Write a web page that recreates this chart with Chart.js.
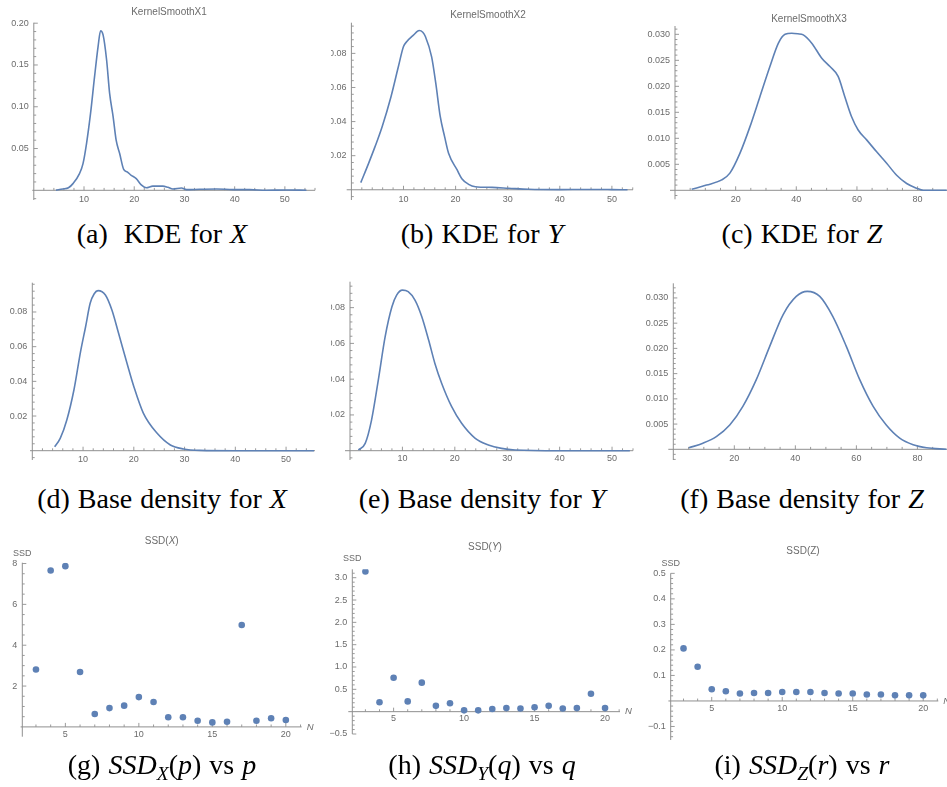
<!DOCTYPE html>
<html>
<head>
<meta charset="utf-8">
<script src="https://cdn.jsdelivr.net/npm/chart.js@4.4.1/dist/chart.umd.min.js"></script>
<style>
    html, body { margin:0; padding:0; background:#fff; }
    #page { position:relative; width:947px; height:787px; overflow:hidden; }
    #page canvas { position:absolute; }
    .cap {
        position:absolute; width:440px; text-align:center; white-space:nowrap;
        font-family:"Liberation Serif","DejaVu Serif",serif; font-size:28px; line-height:28px;
        color:#000; word-spacing:1px;
    }
    .cap sub { font-size:70%; vertical-align:-0.3em; line-height:0; }
</style>
</head>
<body>
<div id="page"></div>
<script>
// ==========================================
// 3x3 panel figure: KDE / base density / SSD
// ==========================================

const BLUE  = '#5e81b5';
const AXIS  = '#8f8f8f';
const LABEL = '#6b6b6b';
const SANS  = '"Liberation Sans", Arial, sans-serif';

// ── (a)(b)(c) kernel smooth curves ──
const kdeX_x = [4.4, 5.8, 6.9, 7.8, 9.1, 9.8, 10.5, 11.3, 12.1, 12.8, 13.3, 13.8, 14.5, 15.1, 15.8, 16.4, 17.1, 17.9,
                18.6, 19.4, 20.4, 21.4, 22.4, 23.7, 25.7, 26.7, 27.7, 29.4, 30.4, 33.0, 36.4, 39.7, 43.0, 46.3, 50.3, 54.3];
const kdeX_y = [0.0002, 0.0016, 0.003, 0.008, 0.020, 0.032, 0.056, 0.092, 0.136, 0.172, 0.191, 0.186, 0.156, 0.116, 0.088, 0.060, 0.044, 0.025,
                0.022, 0.018, 0.014, 0.0064, 0.003, 0.005, 0.005, 0.0036, 0.0016, 0.0028, 0.0008, 0.0012, 0.0016, 0.0008, 0.0008, 0.0001, 0.0004, 0.0001];

const kdeY_x = [1.8, 3.3, 4.5, 5.9, 7.6, 9.0, 10.0, 10.6, 11.9, 13.0, 13.7, 14.2, 15.4, 16.2, 17.05, 17.9, 18.65, 20.3,
                21.2, 22.5, 23.8, 27.0, 30.2, 34.0, 40.0, 45.0, 50.0, 53.0];
const kdeY_y = [0.0042, 0.0155, 0.025, 0.037, 0.0546, 0.072, 0.084, 0.0868, 0.0907, 0.0934, 0.0924, 0.0899, 0.078, 0.0624, 0.043, 0.031, 0.0214, 0.0116,
                0.0065, 0.0032, 0.0018, 0.0014, 0.0009, 0.0003, 0.0001, 0.0002, 0.0001, 0.0];

const kdeZ_x = [5.5, 10.4, 15.4, 18.1, 21.4, 24.7, 28.0, 31.3, 34.1, 36.3, 38.5, 40.5, 42.3, 45.1, 48.4, 51.1, 53.8, 56.0,
                58.2, 60.4, 63.2, 66.5, 69.8, 73.1, 76.4, 79.7, 81.9, 89.6];
const kdeZ_y = [0.0002, 0.001, 0.002, 0.0033, 0.0071, 0.0122, 0.018, 0.0238, 0.0283, 0.030, 0.0302, 0.0301, 0.0299, 0.0283, 0.0254, 0.0238, 0.0219, 0.018,
                0.0142, 0.0116, 0.0097, 0.0074, 0.0052, 0.0029, 0.0013, 0.0004, 0.0, 0.0];

// ── (d)(e)(f) base densities ──
const baseX_x = [4.4, 5.5, 6.8, 8.2, 9.5, 10.5, 11.4, 12.2, 12.95, 14.4, 15.7, 17.0, 18.7, 20.0, 21.9, 24.6, 27.2, 29.8, 33.0, 40.0, 55.5];
const baseX_y = [0.0023, 0.0071, 0.0177, 0.035, 0.057, 0.0715, 0.085, 0.0905, 0.0923, 0.0898, 0.081, 0.0677, 0.050, 0.037, 0.0215, 0.010, 0.0033, 0.001, 0.0002, 0.0, 0.0];

const baseY_x = [1.6, 2.9, 4.1, 5.4, 6.7, 8.0, 8.9, 10.0, 11.1, 12.4, 13.7, 15.0, 16.2, 17.5, 19.4, 21.3, 23.9, 26.4, 28.9, 31.5, 40.0, 53.4];
const baseY_y = [0.0004, 0.0041, 0.017, 0.0395, 0.0637, 0.0805, 0.087, 0.0898, 0.0889, 0.0842, 0.0749, 0.0619, 0.0488, 0.0376, 0.0246, 0.0153, 0.0069, 0.0032, 0.0013, 0.0004, 0.0, 0.0];

const baseZ_x = [5.1, 9.7, 14.1, 18.5, 22.8, 27.2, 31.6, 36.0, 40.3, 43.9, 48.0, 52.3, 56.7, 61.1, 65.5, 69.8, 74.2, 78.6, 83.0, 89.5];
const baseZ_y = [0.0003, 0.0012, 0.0025, 0.0048, 0.0085, 0.0138, 0.0204, 0.0267, 0.0303, 0.0313, 0.0303, 0.0263, 0.0204, 0.0138, 0.0085, 0.0048, 0.0022, 0.0009, 0.0003, 0.0];

// ── (g)(h)(i) SSD vs N ──
const ssdN = [3, 4, 5, 6, 7, 8, 9, 10, 11, 12, 13, 14, 15, 16, 17, 18, 19, 20];
const ssdX = [2.81, 7.66, 7.87, 2.69, 0.63, 0.92, 1.04, 1.46, 1.22, 0.47, 0.47, 0.30, 0.22, 0.25, 4.99, 0.30, 0.42, 0.34];
const ssdY = [3.14, 0.21, 0.76, 0.23, 0.65, 0.13, 0.19, 0.03, 0.03, 0.06, 0.08, 0.07, 0.10, 0.13, 0.07, 0.08, 0.40, 0.08];
const ssdZ = [0.206, 0.134, 0.046, 0.038, 0.029, 0.031, 0.031, 0.035, 0.035, 0.035, 0.031, 0.029, 0.029, 0.025, 0.025, 0.022, 0.022, 0.022];

// ── tick labels ──
const xTicksKde = [10, 20, 30, 40, 50];
const xTicksZ   = [20, 40, 60, 80];
const xTicksN   = [5, 10, 15, 20];
const yTicksA   = [0.05, 0.10, 0.15, 0.20];
const yTicksB   = [0.02, 0.04, 0.06, 0.08];
const yTicksC   = [0.005, 0.010, 0.015, 0.020, 0.025, 0.030];
const yTicksG   = [2, 4, 6, 8];
const yTicksH   = [-0.5, 0.5, 1.0, 1.5, 2.0, 2.5, 3.0];
const yTicksI   = [-0.1, 0.1, 0.2, 0.3, 0.4, 0.5];

// ── helpers ──
function zip(xs, ys) {
    return xs.map((x, i) => ({ x: x, y: ys[i] }));
}

function curve(xs, ys) {
    return { data: zip(xs, ys), showLine: true, borderColor: BLUE, borderWidth: 1.6,
             pointRadius: 0, pointHoverRadius: 0, cubicInterpolationMode: 'monotone', fill: false };
}

function dots(xs, ys) {
    return { data: zip(xs, ys), showLine: false, backgroundColor: BLUE, borderWidth: 0,
             pointRadius: 3.3, pointHoverRadius: 3.3 };
}

function fmt(v, dec) {
    const s = Math.abs(v).toFixed(dec);
    return v < 0 ? '\u2212' + s : s;
}

function eachStep(min, max, step, fn) {
    const k0 = Math.ceil(min / step - 1e-6);
    const k1 = Math.floor(max / step + 1e-6);
    for (let k = k0; k <= k1; k++) fn(k * step);
}

// draw rich text pieces [text, italic] centred at cx
function drawPieces(ctx, pieces, cx, cy, size, align) {
    const widths = pieces.map(p => {
        ctx.font = (p[1] ? 'italic ' : '') + size + 'px ' + SANS;
        return ctx.measureText(p[0]).width;
    });
    const total = widths.reduce((s, w) => s + w, 0);
    let x = align === 'left' ? cx : cx - total / 2;
    ctx.textBaseline = 'middle';
    ctx.textAlign = 'left';
    pieces.forEach((p, i) => {
        ctx.font = (p[1] ? 'italic ' : '') + size + 'px ' + SANS;
        ctx.fillText(p[0], x, cy);
        x += widths[i];
    });
}

// ── Mathematica-like axes: crossing lines, inward major/minor ticks ──
const mmaAxes = {
    id: 'mmaAxes',
    beforeDatasetsDraw(chart, args, o) {
        const { ctx, chartArea: a, scales: { x, y } } = chart;
        const y0 = y.getPixelForValue(0);
        ctx.save();
        ctx.strokeStyle = AXIS;
        ctx.lineWidth = 1;
        ctx.beginPath();
        ctx.moveTo(a.left - o.overhang, y0);
        ctx.lineTo(a.right, y0);
        ctx.moveTo(a.left, a.top);
        ctx.lineTo(a.left, a.bottom);
        ctx.stroke();

        ctx.lineWidth = 0.9;
        ctx.beginPath();
        eachStep(x.min, x.max, o.xMinor, v => {
            const px = x.getPixelForValue(v);
            if (Math.abs(px - a.left) < 1) return;
            const len = o.xMajor.some(m => Math.abs(m - v) < o.xMinor / 4) ? 4 : 2.4;
            ctx.moveTo(px, y0);
            ctx.lineTo(px, y0 - len);
        });
        eachStep(y.min, y.max, o.yMinor, v => {
            const py = y.getPixelForValue(v);
            if (Math.abs(py - y0) < 1) return;
            const len = o.yMajor.some(m => Math.abs(m - v) < o.yMinor / 4) ? 4 : 2.4;
            ctx.moveTo(a.left, py);
            ctx.lineTo(a.left + len, py);
        });
        ctx.stroke();
        ctx.restore();
    },
    afterDraw(chart, args, o) {
        const { ctx, chartArea: a, scales: { y } } = chart;
        ctx.save();
        ctx.fillStyle = LABEL;
        if (o.title) drawPieces(ctx, o.title, o.titleAt[0], o.titleAt[1], 10, 'center');
        if (o.yName) drawPieces(ctx, [[o.yName, false]], a.left, o.yNameY, 9, 'center');
        if (o.xName) drawPieces(ctx, [[o.xName, true]], a.right + 5, y.getPixelForValue(0), 9.5, 'left');
        ctx.restore();
    }
};

// ── panel layout (page pixels) ──
const panels = [
    { L: 0,   T: 0,   W: 316, H: 215, area: { left: 33.8,  right: 315,   top: 22.7,  bottom: 200 },
      x: [0, 56],      y: [-0.0116, 0.2006], xTicks: xTicksKde, yTicks: yTicksA, yDec: 2,
      xMinor: 2, yMinor: 0.01, overhang: 1.5, xPad: 4.3,
      title: [['KernelSmoothX1', false]], titleAt: [169, 12.7], sets: [curve(kdeX_x, kdeX_y)] },
    { L: 331, T: 0,   W: 303, H: 215, area: { left: 351.4, right: 633,   top: 22.7,  bottom: 200 },
      x: [0, 54.05],   y: [-0.006, 0.098],   xTicks: xTicksKde, yTicks: yTicksB, yDec: 2,
      xMinor: 2, yMinor: 0.004, overhang: 4.7, xPad: 4.1,
      title: [['KernelSmoothX2', false]], titleAt: [488, 15.7], sets: [curve(kdeY_x, kdeY_y)] },
    { L: 634, T: 0,   W: 313, H: 215, area: { left: 675,   right: 947,   top: 26,    bottom: 199.3 },
      x: [0, 89.7],    y: [-0.00173, 0.0316], xTicks: xTicksZ, yTicks: yTicksC, yDec: 3,
      xMinor: 5, yMinor: 0.001, overhang: 5, xPad: 4.3,
      title: [['KernelSmoothX3', false]], titleAt: [809, 19], sets: [curve(kdeZ_x, kdeZ_y)] },

    { L: 0,   T: 265, W: 316, H: 210, area: { left: 32.3,  right: 315,   top: 282.7, bottom: 460 },
      x: [0, 55.7],    y: [-0.00537, 0.0969], xTicks: xTicksKde, yTicks: yTicksB, yDec: 2,
      xMinor: 2, yMinor: 0.004, overhang: 2.3, xPad: 3.2, sets: [curve(baseX_x, baseX_y)] },
    { L: 331, T: 265, W: 303, H: 210, area: { left: 350,   right: 633,   top: 281.7, bottom: 460 },
      x: [0, 54.0],    y: [-0.0052, 0.0945], xTicks: xTicksKde, yTicks: yTicksB, yDec: 2,
      xMinor: 2, yMinor: 0.004, overhang: 5, xPad: 2.9, sets: [curve(baseY_x, baseY_y)] },
    { L: 634, T: 265, W: 313, H: 210, area: { left: 673.3, right: 947,   top: 283.3, bottom: 460 },
      x: [0, 89.7],    y: [-0.00212, 0.0329], xTicks: xTicksZ, yTicks: yTicksC, yDec: 3,
      xMinor: 5, yMinor: 0.001, overhang: 5, xPad: 4, sets: [curve(baseZ_x, baseZ_y)] },

    { L: 0,   T: 530, W: 316, H: 257, area: { left: 22.3,  right: 301.7, top: 562.7, bottom: 736.7 },
      x: [2.07, 21.08], y: [-0.48, 8.04],   xTicks: xTicksN, yTicks: yTicksG, yDec: 0,
      xMinor: 1, yMinor: 0.5, overhang: 1.7, xPad: 1.9, yName: 'SSD', yNameY: 553.3, xName: 'N',
      title: [['SSD(', false], ['X', true], [')', false]], titleAt: [161.7, 541.7], sets: [dots(ssdN, ssdX)] },
    { L: 320, T: 530, W: 320, H: 257, area: { left: 352.3, right: 620,   top: 569.3, bottom: 734 },
      x: [2.07, 21.06], y: [-0.5, 3.188],   xTicks: xTicksN, yTicks: yTicksH, yDec: 1,
      xMinor: 1, yMinor: 0.1, overhang: 4, xPad: 1.9, yName: 'SSD', yNameY: 558.3, xName: 'N',
      title: [['SSD(', false], ['Y', true], [')', false]], titleAt: [485, 547], sets: [dots(ssdN, ssdY)] },
    { L: 640, T: 530, W: 307, H: 257, area: { left: 670.7, right: 938.3, top: 573.3, bottom: 740 },
      x: [2.09, 21.07], y: [-0.153, 0.5002], xTicks: xTicksN, yTicks: yTicksI, yDec: 1,
      xMinor: 1, yMinor: 0.02, overhang: 2.3, xPad: 1.9, yName: 'SSD', yNameY: 563.3, xName: 'N',
      title: [['SSD(Z)', false]], titleAt: [803, 551.7], sets: [dots(ssdN, ssdZ)] }
];

// ── captions ──
const captions = [
    { cx: 162, base: 243.3, html: '(a)&nbsp; KDE for <i>X</i>' },
    { cx: 482, base: 243.3, html: '(b) KDE for <i>Y</i>' },
    { cx: 802, base: 243.3, html: '(c) KDE for <i>Z</i>' },
    { cx: 162, base: 508.3, html: '(d) Base density for <i>X</i>' },
    { cx: 482, base: 508.3, html: '(e) Base density for <i>Y</i>' },
    { cx: 802, base: 508.3, html: '(f) Base density for <i>Z</i>' },
    { cx: 162, base: 774.5, html: '(g) <i>SSD</i><sub><i>X</i></sub>(<i>p</i>) vs <i>p</i>' },
    { cx: 482, base: 774.5, html: '(h) <i>SSD</i><sub><i>Y</i></sub>(<i>q</i>) vs <i>q</i>' },
    { cx: 802, base: 774.5, html: '(i) <i>SSD</i><sub><i>Z</i></sub>(<i>r</i>) vs <i>r</i>' }
];

// ── build one panel ──
function makePanel(page, p) {
    const cv = document.createElement('canvas');
    cv.width = p.W;
    cv.height = p.H;
    cv.style.left = p.L + 'px';
    cv.style.top = p.T + 'px';
    page.appendChild(cv);

    const wy = p.area.left - p.L;
    const tickFont = { family: SANS, size: 9 };

    new Chart(cv.getContext('2d'), {
        type: 'scatter',
        data: { datasets: p.sets },
        plugins: [mmaAxes],
        options: {
            responsive: false,
            animation: false,
            events: [],
            layout: {
                padding: {
                    left: 0,
                    top: p.area.top - p.T,
                    right: p.L + p.W - p.area.right,
                    bottom: p.T + p.H - p.area.bottom
                }
            },
            plugins: {
                legend: { display: false },
                tooltip: { enabled: false },
                mmaAxes: {
                    overhang: p.overhang, xMinor: p.xMinor, yMinor: p.yMinor,
                    xMajor: p.xTicks, yMajor: p.yTicks,
                    title: p.title,
                    titleAt: p.titleAt ? [p.titleAt[0] - p.L, p.titleAt[1] - p.T] : null,
                    yName: p.yName, yNameY: p.yNameY ? p.yNameY - p.T : 0, xName: p.xName
                }
            },
            scales: {
                x: {
                    type: 'linear', min: p.x[0], max: p.x[1], position: { y: 0 },
                    afterBuildTicks: s => { s.ticks = p.xTicks.map(v => ({ value: v })); },
                    afterFit: s => { s.paddingLeft = 0; s.paddingRight = 0; },
                    grid: { display: false, drawTicks: false },
                    border: { display: false },
                    ticks: { autoSkip: false, maxRotation: 0, padding: p.xPad, color: LABEL, font: tickFont,
                             callback: v => String(v) }
                },
                y: {
                    type: 'linear', min: p.y[0], max: p.y[1], position: 'left',
                    afterBuildTicks: s => { s.ticks = p.yTicks.map(v => ({ value: v })); },
                    afterFit: s => { s.width = wy; s.paddingTop = 0; s.paddingBottom = 0; },
                    grid: { display: false, drawTicks: false },
                    border: { display: false },
                    ticks: { autoSkip: false, padding: 5, color: LABEL, font: tickFont,
                             callback: v => fmt(v, p.yDec) }
                }
            }
        }
    });
}

document.addEventListener('DOMContentLoaded', () => {
    const page = document.getElementById('page');
    panels.forEach(p => makePanel(page, p));

    captions.forEach(c => {
        const d = document.createElement('div');
        d.className = 'cap';
        d.style.left = (c.cx - 220) + 'px';
        d.style.top = (c.base - 23.5) + 'px';
        d.innerHTML = c.html;
        page.appendChild(d);
    });
});
</script>
</body>
</html>
